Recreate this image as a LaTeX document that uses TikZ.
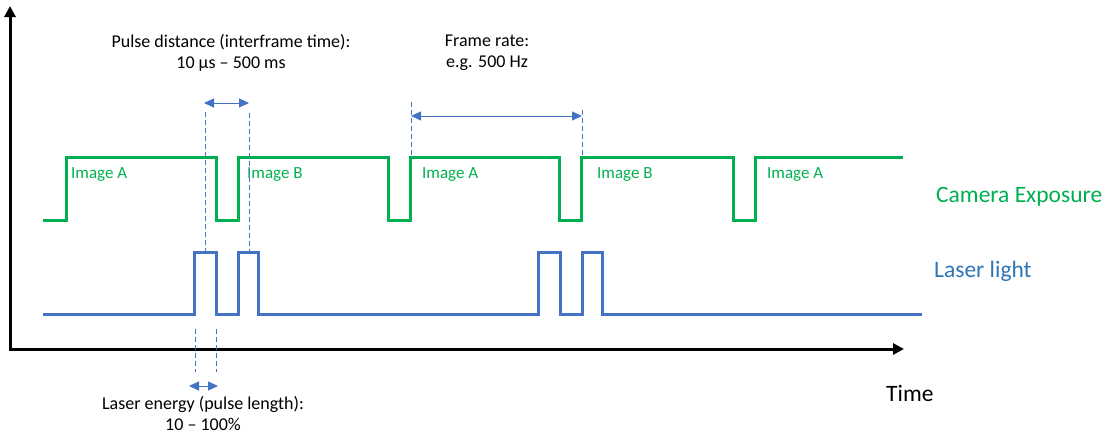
\documentclass[tikz,border=0pt]{standalone}
\usepackage{fontspec}
\setmainfont{Carlito}
\usetikzlibrary{arrows.meta,positioning}
\definecolor{camgreen}{HTML}{00B050}
\definecolor{laserblue}{HTML}{4472C4}
\definecolor{labelblue}{HTML}{2E75B6}

\begin{document}
\begin{tikzpicture}[x=1pt,y=-1pt,
		every node/.style={inner sep=0pt},
		camera/.style={camgreen,line width=3pt},
		laser/.style={laserblue,line width=3pt},
		guide/.style={laserblue,line width=0.8pt,dash pattern=on 5pt off 3pt},
		span/.style={laserblue,line width=1pt,{Triangle[length=10pt,width=9pt]}-{Triangle[length=10pt,width=9pt]}},
		note/.style={align=center,font=\fontsize{18}{21}\selectfont},
		frame/.style={anchor=base west,text=camgreen,font=\fontsize{17}{20}\selectfont},
		signal/.style={anchor=base west,font=\fontsize{23.5}{28}\selectfont}]
	\useasboundingbox (0,0) rectangle (1110,434);

	% axes
	\draw[line width=3pt,{Triangle[length=11pt,width=11pt]}-{Triangle[length=11pt,width=11pt]}] (10,6) -- (10,349) -- (904,349);
	\node[signal] (time) at (886,401) {Time};

	% camera exposure
	\draw[camera] (43,220) -- (66,220) -- (66,157)
		\foreach \x in {216,388,559,733} { -- (\x,157) -- (\x,220) -- (\x+22,220) -- (\x+22,157) } -- (903,157);
	\foreach \x/\t [count=\i] in {71/A,247/B,422/A,597/B,767/A}
		\node[frame] (img\i) at (\x,178) {Image \t};
	\node[signal,text=camgreen] (cam) at (936,202) {Camera Exposure};

	% laser pulses
	\draw[laser] (43,314)
		\foreach \x in {194,538} { -- (\x,314) -- (\x,252) -- (\x+22,252) -- (\x+22,314) -- (\x+44,314) -- (\x+44,252) -- (\x+64,252) -- (\x+64,314) } -- (922,314);
	\node[signal,text=labelblue] (las) at (934,277) {Laser light};

	% pulse distance
	\draw[guide] (205,112) -- (205,252) (249,113) -- (249,252);
	\coordinate (pdl) at (204,103);
	\coordinate (pdr) at (249,103);
	\draw[span] (pdl) -- (pdr);
	\node[note] (pd) at (231,53) {Pulse distance (interframe time):\\10 µs – 500 ms};

	% frame rate
	\draw[guide] (411,102) -- (411,157) (582,110) -- (582,157);
	\coordinate (frl) at (411,116);
	\coordinate (frr) at (582,116);
	\draw[span] (frl) -- (frr);
	\node[note] (fr) at (487,53) {Frame rate:\\e.g. 500 Hz};

	% laser energy
	\draw[guide] (195,329) -- (195,372) (216,329) -- (216,372);
	\coordinate (lel) at (189,386);
	\coordinate (ler) at (218,386);
	\draw[span] (lel) -- (ler);
	\node[note] (le) at (203,413) {Laser energy (pulse length):\\10 – 100\%};
\end{tikzpicture}
\end{document}
